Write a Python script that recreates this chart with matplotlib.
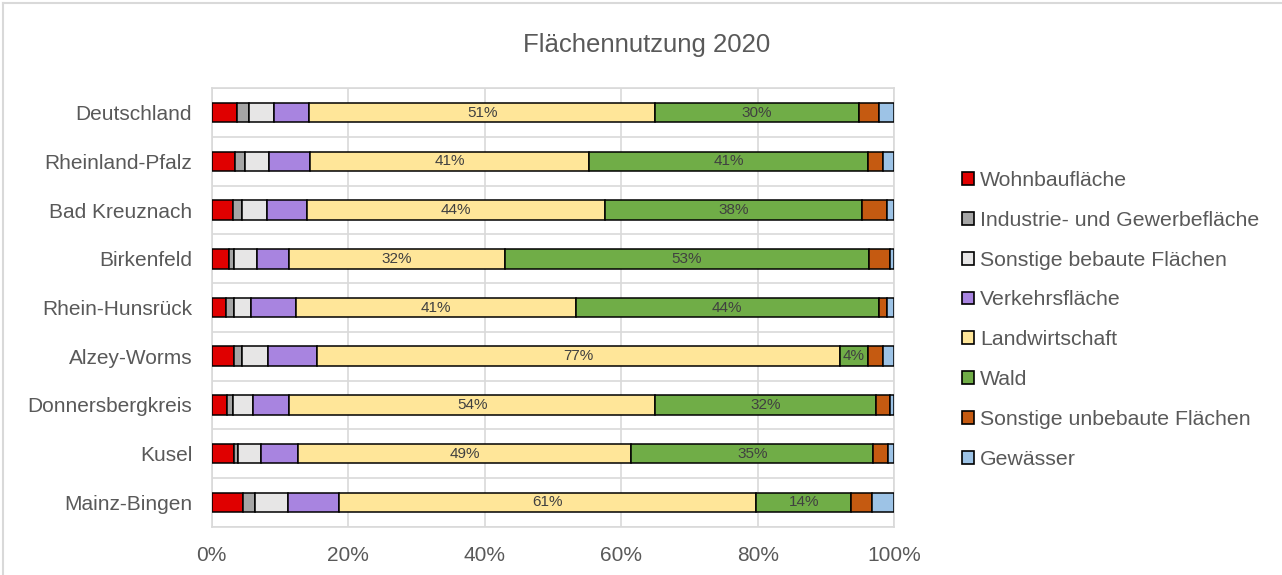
import numpy as np
import matplotlib
matplotlib.use("Agg")
import matplotlib.pyplot as plt
from matplotlib.patches import Patch
from matplotlib.lines import Line2D

plt.rcParams['font.family'] = ['Liberation Sans', 'DejaVu Sans']

regionen = ["Deutschland", "Rheinland-Pfalz", "Bad Kreuznach", "Birkenfeld",
            "Rhein-Hunsrück", "Alzey-Worms", "Donnersbergkreis", "Kusel",
            "Mainz-Bingen"]

kategorien = ["Wohnbaufläche", "Industrie- und Gewerbefläche",
              "Sonstige bebaute Flächen", "Verkehrsfläche", "Landwirtschaft",
              "Wald", "Sonstige unbebaute Flächen", "Gewässer"]

# Anteile in % je Region (Reihenfolge wie kategorien)
wohnbau = [3.7, 3.4, 3.1, 2.6, 2.1, 3.2, 2.3, 3.2, 4.6]
industrie = [1.7, 1.5, 1.3, 0.7, 1.2, 1.3, 0.8, 0.7, 1.7]
sonst_bebaut = [3.8, 3.5, 3.7, 3.4, 2.4, 3.7, 3.0, 3.3, 4.9]
verkehr = [5.1, 6.0, 5.9, 4.6, 6.6, 7.2, 5.2, 5.5, 7.4]
landwirtschaft = [50.7, 40.9, 43.6, 31.6, 41.0, 76.6, 53.7, 48.8, 61.2]
wald = [29.8, 40.8, 37.6, 53.4, 44.4, 4.1, 32.3, 35.4, 13.9]
sonst_unbebaut = [2.9, 2.3, 3.8, 3.1, 1.2, 2.3, 2.0, 2.2, 3.0]
gewaesser = [2.3, 1.6, 1.0, 0.6, 1.1, 1.6, 0.7, 0.9, 3.3]

reihen = [wohnbau, industrie, sonst_bebaut, verkehr, landwirtschaft, wald,
          sonst_unbebaut, gewaesser]
farben = ["#E00000", "#A5A5A5", "#E7E6E6", "#A884E0", "#FFE699", "#70AD47",
          "#C55A11", "#9DC3E6"]
mit_label = [False, False, False, False, True, True, False, False]

textfarbe = "#595959"
gitter = "#D9D9D9"

fig = plt.figure(figsize=(12.82, 5.75), dpi=100)
ax = fig.add_axes([0.1651, 0.0840, 0.5325, 0.7624])

y = np.arange(len(regionen))
links = np.zeros(len(regionen))
for werte, farbe, lab in zip(reihen, farben, mit_label):
    werte = np.array(werte)
    bars = ax.barh(y, werte, left=links, height=0.4, color=farbe,
                   edgecolor="black", linewidth=1.1, zorder=3)
    if lab:
        ax.bar_label(bars, labels=[f"{v:.0f}%" for v in werte],
                     label_type="center", fontsize=11, color="#404040")
    links += werte

ax.set_xlim(0, 100)
ax.set_ylim(len(regionen) - 0.5, -0.5)
ax.set_xticks(np.arange(0, 101, 20))
ax.set_xticklabels([f"{t}%" for t in range(0, 101, 20)])
ax.set_yticks(y)
ax.set_yticklabels(regionen)
ax.set_yticks(np.arange(-0.5, len(regionen)), minor=True)
ax.tick_params(axis="both", which="both", length=0, colors=textfarbe,
               labelsize=15)
ax.tick_params(axis="y", pad=14)
ax.tick_params(axis="x", pad=14)
ax.grid(axis="x", which="major", color=gitter, linewidth=1.2, zorder=0)
ax.grid(axis="y", which="minor", color=gitter, linewidth=1.2, zorder=0)
for s in ax.spines.values():
    s.set_color(gitter)
    s.set_linewidth(1.2)

fig.text(0.504, 0.922, "Flächennutzung 2020", ha="center", va="center",
         fontsize=18.5, color=textfarbe)

handles = [Patch(facecolor=f, edgecolor="black", linewidth=1.2) for f in farben]
fig.legend(handles, kategorien, loc="center left",
           bbox_to_anchor=(0.7504, 0.4437), frameon=False, fontsize=15.3,
           labelcolor=textfarbe, handlelength=0.55, handleheight=0.55,
           handletextpad=0.3, labelspacing=0.98, borderpad=0, borderaxespad=0)

# Rahmen des Diagrammbereichs (links und oben sichtbar)
fig.add_artist(Line2D([3 / 1282, 3 / 1282], [0, 1 - 3 / 575],
                      transform=fig.transFigure, color=gitter, linewidth=1.5))
fig.add_artist(Line2D([3 / 1282, 1], [1 - 3 / 575, 1 - 3 / 575],
                      transform=fig.transFigure, color=gitter, linewidth=1.5))

fig.savefig("out.png", dpi=100)
